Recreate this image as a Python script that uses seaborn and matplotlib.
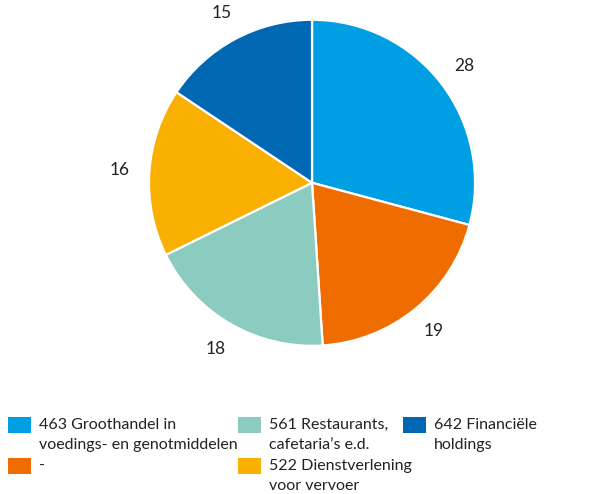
import matplotlib
matplotlib.use("Agg")
import matplotlib.pyplot as plt
import seaborn as sns
from matplotlib.patches import Rectangle

# sectors, clockwise from the top
sectors = ["463 Groothandel in\nvoedings- en genotmiddelen", "-",
           "561 Restaurants,\ncafetaria\u2019s e.d.",
           "522 Dienstverlening\nvoor vervoer", "642 Financi\u00eble\nholdings"]
values = [28, 19, 18, 16, 15]
colors = ["#009fe3", "#ef6c00", "#8ccbbf", "#f9b000", "#0067b2"]

sns.set_theme(style="white")
plt.rcParams["font.family"] = ["Lato", "DejaVu Sans"]

fig = plt.figure(figsize=(6.13, 4.94), dpi=100)
ax = fig.add_axes([0.243, 0.30, 0.532, 0.66])

wedges, texts = ax.pie(values, colors=colors, startangle=90, counterclock=False,
                       labels=[str(v) for v in values], labeldistance=1.18,
                       wedgeprops=dict(edgecolor="white", linewidth=1.6),
                       textprops=dict(fontsize=12.5, color="#222222"))
for t in texts:
    t.set_ha("center")
    t.set_va("center")
    t.set_clip_on(False)
ax.set_xlim(-1, 1)
ax.set_ylim(-1, 1)
ax.set_aspect("equal")

# legend: three columns, two rows, filled column by column
W, H = 613.0, 494.0
col_x = [8, 238, 403]
row_y = [417, 458]
for i, (lab, col) in enumerate(zip(sectors, colors)):
    c, r = divmod(i, 2)
    px, py = col_x[c], row_y[r]
    fig.patches.append(Rectangle((px / W, 1 - (py + 16) / H), 23 / W, 16 / H,
                                 transform=fig.transFigure, facecolor=col,
                                 edgecolor="none"))
    fig.text((px + 31) / W, 1 - (py + 1) / H, lab, fontsize=11.5, color="#222222",
             ha="left", va="top", linespacing=1.5,
             transform=fig.transFigure)

fig.savefig("out.png", dpi=100)
